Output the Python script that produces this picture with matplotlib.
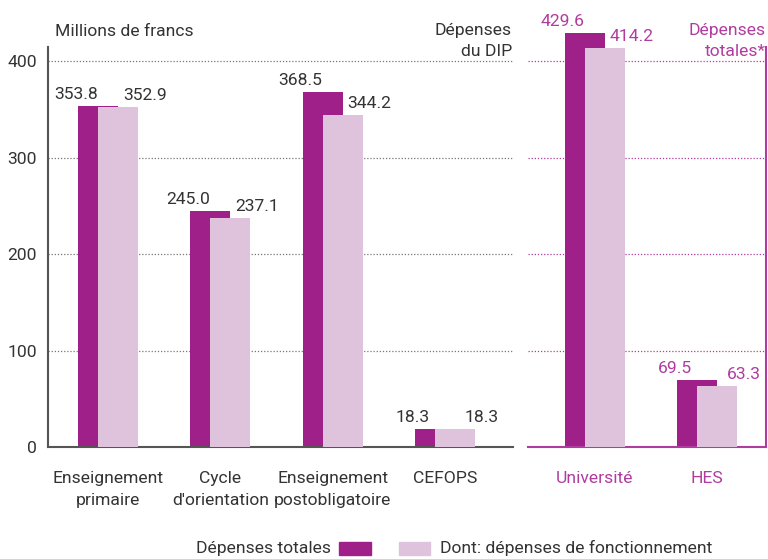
import matplotlib
matplotlib.use("Agg")
import matplotlib.pyplot as plt
from matplotlib import font_manager
from matplotlib.patches import Rectangle

names = {f.name for f in font_manager.fontManager.ttflist}
fam = [n for n in ["Liberation Sans Narrow", "DejaVu Sans Condensed", "Roboto", "DejaVu Sans"] if n in names]
plt.rcParams['font.family'] = fam + ['DejaVu Sans']

# Data
dip_categories = ["Enseignement\nprimaire", "Cycle\nd'orientation", "Enseignement\npostobligatoire", "CEFOPS"]
dip_total = [353.8, 245.0, 368.5, 18.3]
dip_fonct = [352.9, 237.1, 344.2, 18.3]
tot_categories = ["Université", "HES"]
tot_total = [429.6, 69.5]
tot_fonct = [414.2, 63.3]
yticks = [0, 100, 200, 300, 400]

DARK = "#a0208a"
LIGHT = "#dfc3dc"
MAG = "#b03ca0"
GRAY = "#333333"
SPINE = "#555555"
FS = 12.6

W, H = 768, 559
fig = plt.figure(figsize=(W/100, H/100), dpi=100)

def fx(px): return px / W
def fy(py): return 1 - py / H

bottom = fy(447)
height = 400 / H
axL = fig.add_axes([fx(48), bottom, fx(513) - fx(48), height])
axR = fig.add_axes([fx(528), bottom, fx(766) - fx(528), height])

bw = 40 / 112.3
off = 10 / 112.3

def draw(ax, cats, tot, fon, color_text, grid_color):
    x = list(range(len(cats)))
    ax.bar([i - off for i in x], tot, width=bw, color=DARK, zorder=2, clip_on=False)
    ax.bar([i + off for i in x], fon, width=bw, color=LIGHT, zorder=3, clip_on=False)
    for i in x:
        ax.annotate(f"{tot[i]:.1f}", (i - 0.285, tot[i]), xytext=(0, 3), textcoords="offset points",
                    ha="center", va="bottom", fontsize=FS, color=color_text, annotation_clip=False)
        ax.annotate(f"{fon[i]:.1f}", (i + 0.33, fon[i]), xytext=(0, 3), textcoords="offset points",
                    ha="center", va="bottom", fontsize=FS, color=color_text, annotation_clip=False)
    ax.set_xticks(x)
    ax.set_xticklabels(cats, fontsize=FS, color=color_text, linespacing=1.6)
    ax.tick_params(axis="x", length=0, pad=17)
    ax.set_ylim(0, 415)
    ax.set_yticks(yticks)
    ax.yaxis.grid(True, color=grid_color, linestyle=(0, (1, 1.5)), linewidth=0.9)
    ax.set_axisbelow(True)
    for s in ["top", "right", "left"]:
        ax.spines[s].set_visible(False)

draw(axL, dip_categories, dip_total, dip_fonct, GRAY, "#777777")
axL.set_xlim(-0.534, 3.606)
axL.spines["left"].set_visible(True)
axL.spines["left"].set_color(SPINE)
axL.spines["left"].set_linewidth(1.5)
axL.spines["bottom"].set_color(SPINE)
axL.spines["bottom"].set_linewidth(1.5)
axL.tick_params(axis="y", length=0, pad=8, labelsize=FS, labelcolor=GRAY)

draw(axR, tot_categories, tot_total, tot_fonct, MAG, MAG)
axR.set_xlim(-0.598, 1.527)
axR.spines["right"].set_visible(True)
axR.spines["right"].set_color(MAG)
axR.spines["right"].set_linewidth(1.5)
axR.spines["bottom"].set_color(MAG)
axR.spines["bottom"].set_linewidth(1.5)
axR.tick_params(axis="y", length=0, labelleft=False)

# Header texts
fig.text(fx(55), fy(31), "Millions de francs", fontsize=FS, color=GRAY, ha="left", va="center")
fig.text(fx(512), fy(41), "Dépenses\ndu DIP", fontsize=FS, color=GRAY, ha="right", va="center",
         multialignment="right", linespacing=1.45)
fig.text(fx(766), fy(41), "Dépenses\ntotales*", fontsize=FS, color=MAG, ha="right", va="center",
         multialignment="right", linespacing=1.45)

# Legend
ly = 548
fig.text(fx(331), fy(ly), "Dépenses totales", fontsize=FS, color=GRAY, ha="right", va="center")
fig.patches.append(Rectangle((fx(339), fy(555)), fx(371) - fx(339), 13 / H, transform=fig.transFigure,
                             color=DARK, figure=fig))
fig.patches.append(Rectangle((fx(399), fy(555)), fx(430) - fx(399), 13 / H, transform=fig.transFigure,
                             color=LIGHT, figure=fig))
fig.text(fx(440), fy(ly), "Dont: dépenses de fonctionnement", fontsize=FS, color=GRAY, ha="left", va="center")

fig.savefig("out.png", dpi=100)
